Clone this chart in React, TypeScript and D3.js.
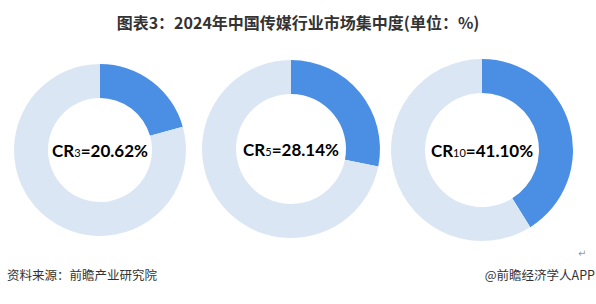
import React from "react";
import * as d3 from "d3";

const title = "图表3：2024年中国传媒行业市场集中度(单位：%)";
const labelSubs = ["3", "5", "10"];
const values = [20.62, 28.14, 41.1];
const source = "资料来源：前瞻产业研究院";
const credit = "@前瞻经济学人APP";

const W = 596;
const H = 304;
const centersX = [100, 291, 482];
const centersY = [150, 149, 150];
const outerR = [86, 89, 91];
const innerR = [52, 55, 57];

export default function App() {
  const pie = d3.pie<number>().sort(null).value((d) => d);
  return (
    <svg
      width={W}
      height={H}
      style={{ position: "absolute", left: 0, top: 0, background: "#fff" }}
      fontFamily="'Noto Sans CJK SC', 'Noto Sans', sans-serif"
    >
      <rect width={W} height={H} fill="#fff" />
      <text x={298} y={29} textAnchor="middle" fontSize={16} fontWeight="bold" fill="#333">
        {title}
      </text>
      {values.map((v, i) => {
        const arcs = pie([v, 100 - v]);
        const arc = d3.arc<d3.PieArcDatum<number>>().innerRadius(innerR[i]).outerRadius(outerR[i]);
        return (
          <g key={i} transform={`translate(${centersX[i]},${centersY[i]})`}>
            {arcs.map((a, j) => (
              <path key={j} d={arc(a) || ""} fill={j === 0 ? "#4a8fe3" : "#dbe6f4"} />
            ))}
            <text
              y={7}
              textAnchor="middle"
              fontFamily="Lato, 'Open Sans', sans-serif"
              fontWeight="bold"
              fontSize={17}
              fill="#000"
            >
              CR
              <tspan fontSize={11} fontWeight="normal">{labelSubs[i]}</tspan>
              {`=${v.toFixed(2)}%`}
            </text>
          </g>
        );
      })}
      <text x={578} y={257} fontSize={10} fill="#999" fontFamily="'DejaVu Sans', sans-serif">↵</text>
      <text x={7} y={280} fontSize={12.5} fill="#333">{source}</text>
      <text x={595} y={280} fontSize={12.5} fill="#333" textAnchor="end">{credit}</text>
    </svg>
  );
}
